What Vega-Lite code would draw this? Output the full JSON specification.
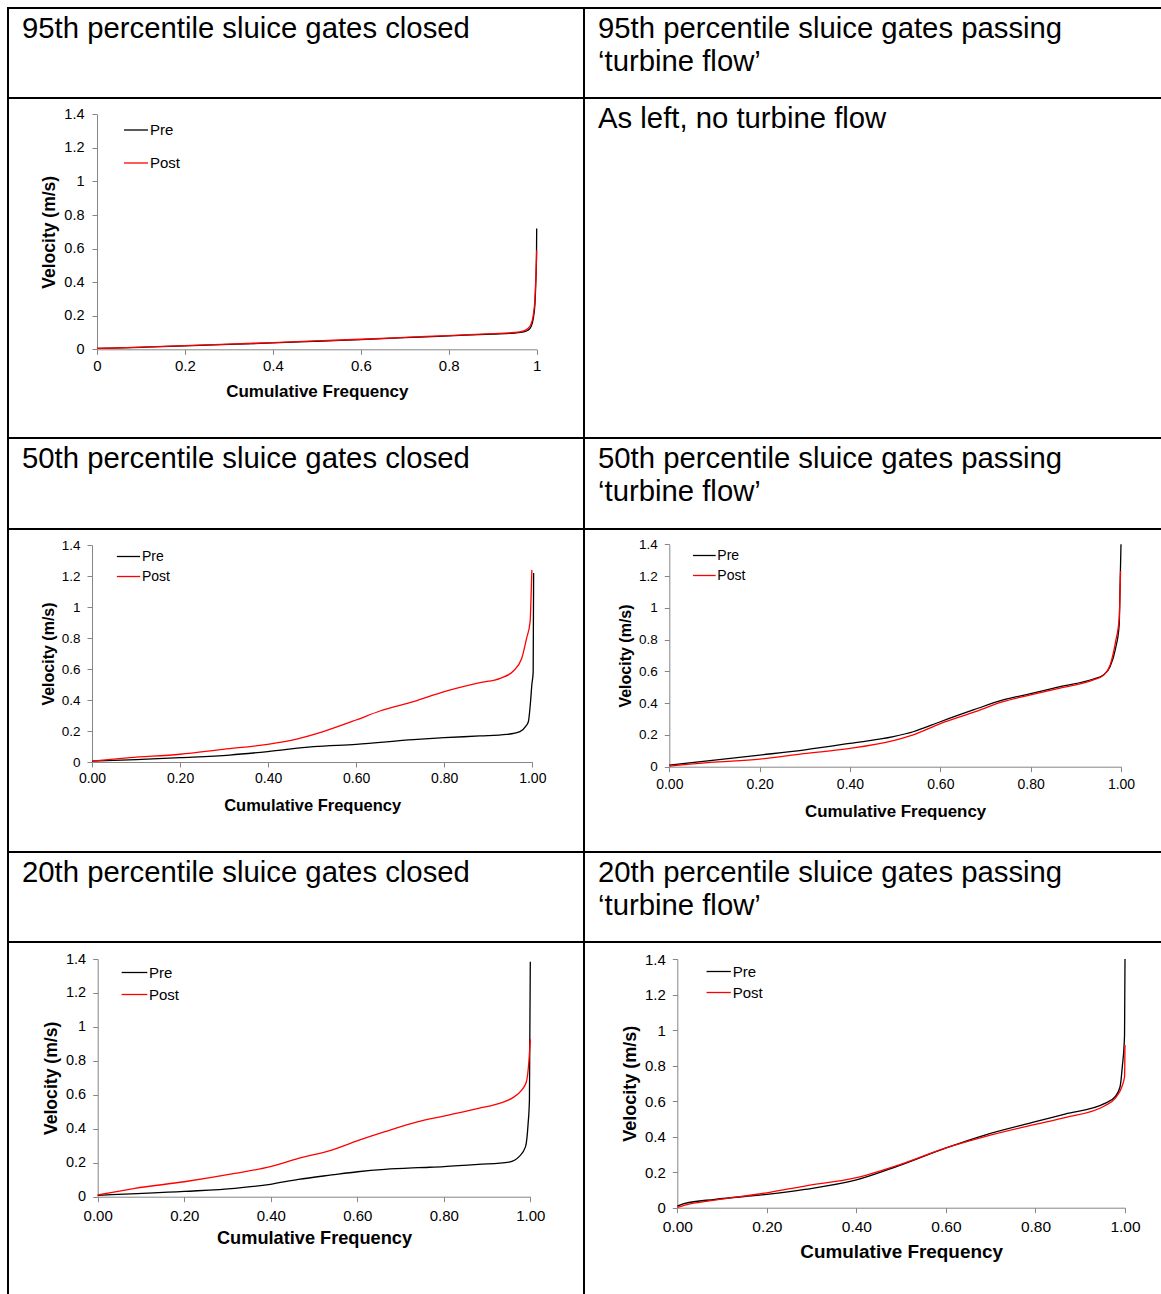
{
  "$schema": "https://vega.github.io/schema/vega-lite/v6.json",
  "padding": {"left": 7, "top": 7, "right": 0, "bottom": 0},
  "background": "white",
  "config": {
    "view": {"stroke": "black", "strokeWidth": 2},
    "font": "Liberation Sans",
    "axis": {"grid": false, "domainColor": "#868686", "tickColor": "#868686", "tickSize": 5, "labelColor": "black", "titleColor": "black", "labelFont": "Liberation Sans", "titleFont": "Liberation Sans", "titleFontWeight": "bold", "labelFlush": false, "labelOverlap": false, "labelPadding": 4},
    "legend": {"orient": "none", "title": null, "symbolType": "stroke", "symbolStrokeWidth": 1.3, "labelFont": "Liberation Sans", "labelColor": "black", "labelOffset": 1, "padding": 0},
    "title": {"anchor": "start", "frame": "group", "font": "Liberation Sans", "fontSize": 29.3, "fontWeight": "normal", "color": "black", "dx": 14, "lineHeight": 33}
  },
  "resolve": {"scale": {"color": "independent"}, "legend": {"color": "independent"}},
  "datasets": {
    "c1": [
      {"f":0,"v":0.005,"s":"Pre"},{"f":0.1,"v":0.012,"s":"Pre"},{"f":0.2,"v":0.02,"s":"Pre"},{"f":0.3,"v":0.029,"s":"Pre"},{"f":0.4,"v":0.038,"s":"Pre"},{"f":0.5,"v":0.048,"s":"Pre"},{"f":0.6,"v":0.058,"s":"Pre"},{"f":0.7,"v":0.069,"s":"Pre"},{"f":0.8,"v":0.08,"s":"Pre"},{"f":0.9,"v":0.091,"s":"Pre"},{"f":0.95,"v":0.097,"s":"Pre"},{"f":0.97,"v":0.104,"s":"Pre"},{"f":0.98,"v":0.113,"s":"Pre"},{"f":0.987,"v":0.135,"s":"Pre"},{"f":0.992,"v":0.18,"s":"Pre"},{"f":0.996,"v":0.27,"s":"Pre"},{"f":0.998,"v":0.4,"s":"Pre"},{"f":0.9995,"v":0.55,"s":"Pre"},{"f":1.0,"v":0.72,"s":"Pre"},
      {"f":0,"v":0.005,"s":"Post"},{"f":0.1,"v":0.013,"s":"Post"},{"f":0.2,"v":0.022,"s":"Post"},{"f":0.3,"v":0.031,"s":"Post"},{"f":0.4,"v":0.04,"s":"Post"},{"f":0.5,"v":0.05,"s":"Post"},{"f":0.6,"v":0.06,"s":"Post"},{"f":0.7,"v":0.071,"s":"Post"},{"f":0.8,"v":0.082,"s":"Post"},{"f":0.9,"v":0.093,"s":"Post"},{"f":0.95,"v":0.1,"s":"Post"},{"f":0.97,"v":0.11,"s":"Post"},{"f":0.98,"v":0.124,"s":"Post"},{"f":0.987,"v":0.15,"s":"Post"},{"f":0.992,"v":0.2,"s":"Post"},{"f":0.996,"v":0.3,"s":"Post"},{"f":0.998,"v":0.42,"s":"Post"},{"f":1.0,"v":0.59,"s":"Post"}
    ],
    "c2": [
      {"f":0,"v":0.006,"s":"Pre"},{"f":0.1,"v":0.015,"s":"Pre"},{"f":0.2,"v":0.028,"s":"Pre"},{"f":0.313,"v":0.045,"s":"Pre"},{"f":0.399,"v":0.067,"s":"Pre"},{"f":0.503,"v":0.099,"s":"Pre"},{"f":0.6,"v":0.114,"s":"Pre"},{"f":0.73,"v":0.144,"s":"Pre"},{"f":0.8,"v":0.157,"s":"Pre"},{"f":0.881,"v":0.168,"s":"Pre"},{"f":0.942,"v":0.178,"s":"Pre"},{"f":0.972,"v":0.196,"s":"Pre"},{"f":0.985,"v":0.23,"s":"Pre"},{"f":0.991,"v":0.26,"s":"Pre"},{"f":0.996,"v":0.389,"s":"Pre"},{"f":0.999,"v":0.5,"s":"Pre"},{"f":1.002,"v":0.58,"s":"Pre"},{"f":1.003,"v":1.22,"s":"Pre"},
      {"f":0,"v":0.006,"s":"Post"},{"f":0.086,"v":0.028,"s":"Post"},{"f":0.2,"v":0.05,"s":"Post"},{"f":0.298,"v":0.082,"s":"Post"},{"f":0.399,"v":0.114,"s":"Post"},{"f":0.465,"v":0.148,"s":"Post"},{"f":0.525,"v":0.196,"s":"Post"},{"f":0.6,"v":0.271,"s":"Post"},{"f":0.654,"v":0.329,"s":"Post"},{"f":0.73,"v":0.389,"s":"Post"},{"f":0.8,"v":0.454,"s":"Post"},{"f":0.881,"v":0.512,"s":"Post"},{"f":0.927,"v":0.54,"s":"Post"},{"f":0.957,"v":0.587,"s":"Post"},{"f":0.976,"v":0.669,"s":"Post"},{"f":0.987,"v":0.798,"s":"Post"},{"f":0.995,"v":0.905,"s":"Post"},{"f":0.998,"v":1.142,"s":"Post"},{"f":0.999,"v":1.239,"s":"Post"}
    ],
    "c3": [
      {"f":0,"v":0.01,"s":"Pre"},{"f":0.09,"v":0.038,"s":"Pre"},{"f":0.2,"v":0.073,"s":"Pre"},{"f":0.297,"v":0.105,"s":"Pre"},{"f":0.4,"v":0.147,"s":"Pre"},{"f":0.496,"v":0.189,"s":"Pre"},{"f":0.54,"v":0.22,"s":"Pre"},{"f":0.6,"v":0.283,"s":"Pre"},{"f":0.673,"v":0.357,"s":"Pre"},{"f":0.739,"v":0.42,"s":"Pre"},{"f":0.8,"v":0.46,"s":"Pre"},{"f":0.865,"v":0.504,"s":"Pre"},{"f":0.939,"v":0.552,"s":"Pre"},{"f":0.961,"v":0.577,"s":"Pre"},{"f":0.976,"v":0.63,"s":"Pre"},{"f":0.988,"v":0.745,"s":"Pre"},{"f":0.996,"v":0.892,"s":"Pre"},{"f":0.998,"v":1.144,"s":"Pre"},{"f":1.0,"v":1.4,"s":"Pre"},
      {"f":0,"v":0.004,"s":"Post"},{"f":0.09,"v":0.027,"s":"Post"},{"f":0.2,"v":0.048,"s":"Post"},{"f":0.297,"v":0.082,"s":"Post"},{"f":0.4,"v":0.115,"s":"Post"},{"f":0.496,"v":0.164,"s":"Post"},{"f":0.54,"v":0.2,"s":"Post"},{"f":0.6,"v":0.271,"s":"Post"},{"f":0.673,"v":0.342,"s":"Post"},{"f":0.739,"v":0.409,"s":"Post"},{"f":0.8,"v":0.452,"s":"Post"},{"f":0.865,"v":0.495,"s":"Post"},{"f":0.939,"v":0.546,"s":"Post"},{"f":0.961,"v":0.575,"s":"Post"},{"f":0.976,"v":0.64,"s":"Post"},{"f":0.988,"v":0.787,"s":"Post"},{"f":0.996,"v":0.934,"s":"Post"},{"f":0.999,"v":1.232,"s":"Post"}
    ],
    "c4": [
      {"f":0,"v":0.008,"s":"Pre"},{"f":0.2,"v":0.031,"s":"Pre"},{"f":0.317,"v":0.049,"s":"Pre"},{"f":0.399,"v":0.073,"s":"Pre"},{"f":0.464,"v":0.102,"s":"Pre"},{"f":0.541,"v":0.128,"s":"Pre"},{"f":0.601,"v":0.147,"s":"Pre"},{"f":0.664,"v":0.161,"s":"Pre"},{"f":0.741,"v":0.171,"s":"Pre"},{"f":0.8,"v":0.177,"s":"Pre"},{"f":0.88,"v":0.19,"s":"Pre"},{"f":0.951,"v":0.204,"s":"Pre"},{"f":0.974,"v":0.236,"s":"Pre"},{"f":0.989,"v":0.295,"s":"Pre"},{"f":0.995,"v":0.432,"s":"Pre"},{"f":0.998,"v":0.569,"s":"Pre"},{"f":1.0,"v":1.384,"s":"Pre"},
      {"f":0,"v":0.01,"s":"Post"},{"f":0.086,"v":0.049,"s":"Post"},{"f":0.2,"v":0.088,"s":"Post"},{"f":0.317,"v":0.137,"s":"Post"},{"f":0.399,"v":0.177,"s":"Post"},{"f":0.464,"v":0.226,"s":"Post"},{"f":0.541,"v":0.275,"s":"Post"},{"f":0.601,"v":0.33,"s":"Post"},{"f":0.664,"v":0.383,"s":"Post"},{"f":0.741,"v":0.442,"s":"Post"},{"f":0.8,"v":0.475,"s":"Post"},{"f":0.88,"v":0.52,"s":"Post"},{"f":0.934,"v":0.554,"s":"Post"},{"f":0.957,"v":0.579,"s":"Post"},{"f":0.98,"v":0.628,"s":"Post"},{"f":0.991,"v":0.677,"s":"Post"},{"f":0.997,"v":0.805,"s":"Post"},{"f":1.0,"v":0.927,"s":"Post"}
    ],
    "c5": [
      {"f":0,"v":0.009,"s":"Pre"},{"f":0.017,"v":0.024,"s":"Pre"},{"f":0.084,"v":0.047,"s":"Pre"},{"f":0.2,"v":0.075,"s":"Pre"},{"f":0.285,"v":0.103,"s":"Pre"},{"f":0.4,"v":0.156,"s":"Pre"},{"f":0.494,"v":0.235,"s":"Pre"},{"f":0.602,"v":0.338,"s":"Pre"},{"f":0.687,"v":0.409,"s":"Pre"},{"f":0.8,"v":0.484,"s":"Pre"},{"f":0.866,"v":0.527,"s":"Pre"},{"f":0.955,"v":0.587,"s":"Pre"},{"f":0.978,"v":0.625,"s":"Pre"},{"f":0.989,"v":0.681,"s":"Pre"},{"f":0.994,"v":0.794,"s":"Pre"},{"f":0.999,"v":0.972,"s":"Pre"},{"f":1.0,"v":1.4,"s":"Pre"},
      {"f":0,"v":0.002,"s":"Post"},{"f":0.017,"v":0.015,"s":"Post"},{"f":0.084,"v":0.043,"s":"Post"},{"f":0.2,"v":0.084,"s":"Post"},{"f":0.285,"v":0.122,"s":"Post"},{"f":0.4,"v":0.169,"s":"Post"},{"f":0.494,"v":0.24,"s":"Post"},{"f":0.602,"v":0.338,"s":"Post"},{"f":0.687,"v":0.4,"s":"Post"},{"f":0.8,"v":0.469,"s":"Post"},{"f":0.866,"v":0.507,"s":"Post"},{"f":0.955,"v":0.574,"s":"Post"},{"f":0.978,"v":0.616,"s":"Post"},{"f":0.993,"v":0.681,"s":"Post"},{"f":0.999,"v":0.737,"s":"Post"},{"f":1.0,"v":0.916,"s":"Post"}
    ]
  },
  "columns": 2,
  "spacing": 0,
  "bounds": "flush",
  "concat": [
    {"width": 576, "height": 90, "data": {"values": [{"cell": "95th closed"}]}, "mark": {"type": "rect", "fill": "transparent", "stroke": "black", "strokeWidth": 2}, "encoding": {}, "title": {"text": "95th percentile sluice gates closed", "offset": -37}},
    {"width": 580, "height": 90, "data": {"values": [{"cell": "95th passing"}]}, "mark": {"type": "rect", "fill": "transparent", "stroke": "black", "strokeWidth": 2}, "encoding": {}, "title": {"text": ["95th percentile sluice gates passing", "‘turbine flow’"], "offset": -70}},
    {"width": 576, "height": 340, "data": {"name": "c1"},
     "mark": {"type": "line", "strokeWidth": 1.3, "interpolate": "monotone"},
     "encoding": {
       "x": {"field": "f", "type": "quantitative", "scale": {"domain": [0, 1], "range": [89, 528.7], "nice": false, "zero": false},
             "axis": {"orient": "bottom", "offset": -88.7, "values": [0, 0.2, 0.4, 0.6, 0.8, 1], "format": ".1~f", "title": "Cumulative Frequency", "labelFontSize": 15, "titleFontSize": 17, "titlePadding": 10}},
       "y": {"field": "v", "type": "quantitative", "scale": {"domain": [0, 1.4], "range": [251.3, 16.3], "nice": false},
             "axis": {"orient": "left", "offset": -89, "values": [0, 0.2, 0.4, 0.6, 0.8, 1, 1.2, 1.4], "format": ".1~f", "title": "Velocity (m/s)", "labelFontSize": 14.5, "titleFontSize": 17.5, "labelPadding": 8, "titlePadding": 5}},
       "color": {"field": "s", "type": "nominal", "scale": {"domain": ["Pre", "Post"], "range": ["black", "#ff0000"]},
                 "legend": {"legendX": 115, "legendY": 19, "symbolSize": 576, "labelFontSize": 15, "rowPadding": 12}}
     }},
    {"width": 580, "height": 340, "data": {"values": [{"cell": "95th passing chart"}]}, "mark": {"type": "rect", "fill": "transparent", "stroke": "black", "strokeWidth": 2}, "encoding": {}, "title": {"text": "As left, no turbine flow", "offset": -37}},
    {"width": 576, "height": 91, "data": {"values": [{"cell": "50th closed"}]}, "mark": {"type": "rect", "fill": "transparent", "stroke": "black", "strokeWidth": 2}, "encoding": {}, "title": {"text": "50th percentile sluice gates closed", "offset": -37}},
    {"width": 580, "height": 91, "data": {"values": [{"cell": "50th passing"}]}, "mark": {"type": "rect", "fill": "transparent", "stroke": "black", "strokeWidth": 2}, "encoding": {}, "title": {"text": ["50th percentile sluice gates passing", "‘turbine flow’"], "offset": -70}},
    {"width": 576, "height": 323, "data": {"name": "c2"},
     "mark": {"type": "line", "strokeWidth": 1.3, "interpolate": "monotone"},
     "encoding": {
       "x": {"field": "f", "type": "quantitative", "scale": {"domain": [0, 1], "range": [84, 524.3], "nice": false, "zero": false},
             "axis": {"orient": "bottom", "offset": -90, "values": [0, 0.2, 0.4, 0.6, 0.8, 1], "format": ".2f", "title": "Cumulative Frequency", "labelFontSize": 14, "titleFontSize": 16.5, "titlePadding": 12}},
       "y": {"field": "v", "type": "quantitative", "scale": {"domain": [0, 1.4], "range": [233, 16], "nice": false},
             "axis": {"orient": "left", "offset": -84, "values": [0, 0.2, 0.4, 0.6, 0.8, 1, 1.2, 1.4], "format": ".1~f", "title": "Velocity (m/s)", "labelFontSize": 13.5, "titleFontSize": 16, "labelPadding": 7, "titlePadding": 5}},
       "color": {"field": "s", "type": "nominal", "scale": {"domain": ["Pre", "Post"], "range": ["black", "#ff0000"]},
                 "legend": {"legendX": 108, "legendY": 15, "symbolSize": 543, "labelFontSize": 14, "rowPadding": -4}}
     }},
    {"width": 580, "height": 323, "data": {"name": "c3"},
     "mark": {"type": "line", "strokeWidth": 1.3, "interpolate": "monotone"},
     "encoding": {
       "x": {"field": "f", "type": "quantitative", "scale": {"domain": [0, 1], "range": [85.3, 537], "nice": false, "zero": false},
             "axis": {"orient": "bottom", "offset": -85.3, "values": [0, 0.2, 0.4, 0.6, 0.8, 1], "format": ".2f", "title": "Cumulative Frequency", "labelFontSize": 14, "titleFontSize": 16.9, "labelPadding": 6, "titlePadding": 12}},
       "y": {"field": "v", "type": "quantitative", "scale": {"domain": [0, 1.4], "range": [237.7, 15.3], "nice": false},
             "axis": {"orient": "left", "offset": -85.3, "values": [0, 0.2, 0.4, 0.6, 0.8, 1, 1.2, 1.4], "format": ".1~f", "title": "Velocity (m/s)", "labelFontSize": 13.5, "titleFontSize": 16, "labelPadding": 7, "titlePadding": 5}},
       "color": {"field": "s", "type": "nominal", "scale": {"domain": ["Pre", "Post"], "range": ["black", "#ff0000"]},
                 "legend": {"legendX": 108.3, "legendY": 14.5, "symbolSize": 515, "labelFontSize": 14, "rowPadding": 1}}
     }},
    {"width": 576, "height": 90, "data": {"values": [{"cell": "20th closed"}]}, "mark": {"type": "rect", "fill": "transparent", "stroke": "black", "strokeWidth": 2}, "encoding": {}, "title": {"text": "20th percentile sluice gates closed", "offset": -37}},
    {"width": 580, "height": 90, "data": {"values": [{"cell": "20th passing"}]}, "mark": {"type": "rect", "fill": "transparent", "stroke": "black", "strokeWidth": 2}, "encoding": {}, "title": {"text": ["20th percentile sluice gates passing", "‘turbine flow’"], "offset": -70}},
    {"width": 576, "height": 355, "data": {"name": "c4"},
     "mark": {"type": "line", "strokeWidth": 1.3, "interpolate": "monotone"},
     "encoding": {
       "x": {"field": "f", "type": "quantitative", "scale": {"domain": [0, 1], "range": [89.7, 522.3], "nice": false, "zero": false},
             "axis": {"orient": "bottom", "offset": -100.3, "values": [0, 0.2, 0.4, 0.6, 0.8, 1], "format": ".2f", "title": "Cumulative Frequency", "labelFontSize": 15, "titleFontSize": 18.2, "labelPadding": 7, "titlePadding": 6}},
       "y": {"field": "v", "type": "quantitative", "scale": {"domain": [0, 1.4], "range": [254.7, 17], "nice": false},
             "axis": {"orient": "left", "offset": -89.7, "values": [0, 0.2, 0.4, 0.6, 0.8, 1, 1.2, 1.4], "format": ".1~f", "title": "Velocity (m/s)", "labelFontSize": 14.5, "titleFontSize": 17.6, "labelPadding": 7, "titlePadding": 5}},
       "color": {"field": "s", "type": "nominal", "scale": {"domain": ["Pre", "Post"], "range": ["black", "#ff0000"]},
                 "legend": {"legendX": 113, "legendY": 17, "symbolSize": 660, "labelFontSize": 15, "rowPadding": -4}}
     }},
    {"width": 580, "height": 355, "data": {"name": "c5"},
     "mark": {"type": "line", "strokeWidth": 1.3, "interpolate": "monotone"},
     "encoding": {
       "x": {"field": "f", "type": "quantitative", "scale": {"domain": [0, 1], "range": [93.3, 541], "nice": false, "zero": false},
             "axis": {"orient": "bottom", "offset": -89.3, "values": [0, 0.2, 0.4, 0.6, 0.8, 1], "format": ".2f", "title": "Cumulative Frequency", "labelFontSize": 15.5, "titleFontSize": 18.9, "labelPadding": 7, "titlePadding": 7}},
       "y": {"field": "v", "type": "quantitative", "scale": {"domain": [0, 1.4], "range": [265.7, 17], "nice": false},
             "axis": {"orient": "left", "offset": -93.3, "values": [0, 0.2, 0.4, 0.6, 0.8, 1, 1.2, 1.4], "format": ".1~f", "title": "Velocity (m/s)", "labelFontSize": 15, "titleFontSize": 18, "labelPadding": 7, "titlePadding": 5}},
       "color": {"field": "s", "type": "nominal", "scale": {"domain": ["Pre", "Post"], "range": ["black", "#ff0000"]},
                 "legend": {"legendX": 121.7, "legendY": 16.5, "symbolSize": 590, "labelFontSize": 15, "rowPadding": -0.2}}
     }}
  ]
}
